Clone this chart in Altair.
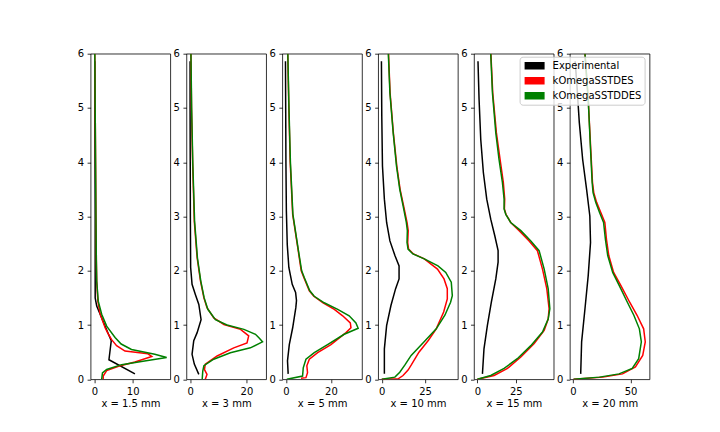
import altair as alt
import pandas as pd

MODELS = ["Experimental", "kOmegaSSTDES", "kOmegaSSTDDES"]
COLORS = ["#000000", "#ff0000", "#008000"]
TITLES = ["x = 1.5 mm", "x = 3 mm", "x = 5 mm", "x = 10 mm", "x = 15 mm", "x = 20 mm"]
X_DOMAINS = [[-1.0, 19.85], [-1.29, 26.99], [-1.61, 33.8], [-2.1, 44.0], [-2.2, 49.7], [-2.6, 66.4]]
X_TICKS = [[0, 10], [0, 20], [0, 20], [0, 25], [0, 25], [0, 50]]
Y_TICKS = [0, 1, 2, 3, 4, 5, 6]

# ---- x = 1.5 mm
P1_EXP_Y = [0.10, 0.36, 0.71, 1.35, 1.50, 2.0, 3.0, 4.0, 5.0, 5.86]
P1_EXP_X = [10.6, 3.8, 4.4, 0.6, 0.2, 0.2, 0.2, 0.15, 0.1, 0.1]
P1_DES_Y = [0.0, 0.06, 0.16, 0.24, 0.32, 0.42, 0.47, 0.52, 0.62, 0.73, 0.85, 0.95, 1.2, 1.44, 1.8, 2.2, 3.0, 4.0, 5.0, 6.0]
P1_DES_X = [2.3, 2.3, 3.2, 6.3, 10.6, 15.0, 14.0, 8.0, 5.8, 4.5, 3.5, 2.8, 1.5, 0.9, 0.6, 0.5, 0.4, 0.3, 0.2, 0.1]
P1_DDES_Y = [0.0, 0.12, 0.18, 0.27, 0.33, 0.40, 0.46, 0.55, 0.65, 0.77, 0.98, 1.2, 1.44, 1.81, 2.2, 3.0, 4.0, 5.0, 6.0]
P1_DDES_X = [1.9, 2.1, 3.2, 7.1, 12.3, 18.9, 15.8, 9.7, 7.0, 5.4, 3.2, 1.9, 1.0, 0.6, 0.5, 0.4, 0.3, 0.2, 0.1]

# ---- x = 3 mm
P2_EXP_Y = [0.09, 0.28, 0.46, 0.71, 0.86, 1.10, 1.38, 1.56, 1.75, 2.06, 3.0, 4.0, 5.0, 5.86]
P2_EXP_X = [3.1, 1.5, 0.7, 1.3, 2.5, 3.9, 3.1, 1.9, 0.7, 0.2, 0.1, 0.05, 0.0, 0.0]
P2_DES_Y = [0.0, 0.09, 0.18, 0.28, 0.43, 0.58, 0.67, 0.80, 0.92, 1.01, 1.13, 1.32, 1.50, 1.81, 2.24, 2.91, 4.0, 5.0, 6.0]
P2_DES_X = [5.4, 6.0, 5.1, 5.4, 9.6, 15.5, 20.2, 20.8, 17.9, 12.0, 8.4, 6.0, 4.9, 3.7, 2.5, 1.5, 0.9, 0.5, 0.3]
P2_DDES_Y = [0.0, 0.15, 0.25, 0.37, 0.49, 0.58, 0.69, 0.76, 0.83, 0.92, 1.0, 1.10, 1.29, 1.50, 1.81, 2.24, 2.91, 4.0, 5.0, 6.0]
P2_DDES_X = [4.3, 4.5, 4.9, 8.4, 14.3, 21.4, 25.7, 24.5, 23.2, 19.1, 13.1, 9.0, 6.3, 5.0, 3.8, 2.6, 1.6, 0.95, 0.55, 0.3]

# ---- x = 5 mm
P3_EXP_Y = [0.10, 0.34, 0.64, 0.95, 1.32, 1.45, 1.60, 1.75, 2.06, 2.48, 3.10, 4.0, 5.0, 5.86]
P3_EXP_X = [1.0, 0.7, 1.5, 3.0, 4.4, 4.7, 4.3, 2.8, 1.3, 0.6, 0.2, 0.0, -0.1, -0.2]
P3_DES_Y = [0.02, 0.03, 0.12, 0.25, 0.37, 0.49, 0.64, 0.86, 0.95, 1.04, 1.17, 1.29, 1.41, 1.53, 1.63, 1.87, 2.0, 2.36, 3.04, 4.0, 5.0, 6.0]
P3_DES_X = [6.7, 8.9, 9.6, 9.3, 10.4, 14.1, 20.0, 26.7, 28.9, 28.6, 25.2, 21.5, 16.5, 12.4, 10.4, 8.0, 6.8, 5.5, 3.0, 1.9, 1.3, 0.8]
P3_DDES_Y = [0.0, 0.06, 0.21, 0.37, 0.49, 0.64, 0.83, 0.94, 1.04, 1.17, 1.29, 1.41, 1.53, 1.63, 1.87, 2.0, 2.36, 3.04, 4.0, 5.0, 6.0]
P3_DDES_X = [0.4, 7.4, 7.7, 8.9, 12.6, 18.5, 25.9, 32.1, 31.1, 28.1, 23.0, 17.0, 12.6, 10.6, 8.2, 7.0, 5.6, 3.1, 2.0, 1.35, 0.85]

# ---- x = 10 mm
P4_EXP_Y = [0.10, 0.56, 0.99, 1.36, 1.67, 1.85, 2.09, 2.28, 2.55, 2.89, 3.32, 3.93, 4.85, 5.86]
P4_EXP_X = [1.5, 1.5, 2.8, 5.3, 8.0, 10.0, 10.0, 7.6, 4.7, 2.8, 1.5, 0.4, 0.0, -0.2]
P4_DES_Y = [0.0, 0.01, 0.07, 0.17, 0.26, 0.50, 0.72, 0.93, 1.24, 1.48, 1.67, 1.85, 2.03, 2.22, 2.31, 2.40, 2.52, 2.74, 2.89, 3.20, 3.50, 3.93, 4.54, 5.28, 6.0]
P4_DES_X = [0.0, 9.5, 12.3, 15.2, 17.0, 21.5, 27.0, 31.5, 35.8, 37.9, 37.9, 36.0, 32.2, 24.6, 18.3, 15.5, 15.0, 15.3, 14.6, 12.6, 10.6, 8.7, 6.7, 4.8, 3.9]
P4_DDES_Y = [0.0, 0.04, 0.13, 0.26, 0.44, 0.69, 0.93, 1.18, 1.42, 1.54, 1.79, 1.97, 2.09, 2.22, 2.31, 2.40, 2.52, 2.74, 2.89, 3.20, 3.50, 3.93, 4.54, 5.28, 6.0]
P4_DDES_X = [0.0, 7.6, 10.4, 13.3, 17.0, 24.5, 31.5, 36.5, 39.8, 40.8, 40.2, 37.0, 32.5, 24.6, 18.0, 15.2, 14.6, 14.8, 14.2, 12.3, 10.4, 8.5, 6.6, 4.7, 3.8]

# ---- x = 15 mm
P5_EXP_Y = [0.10, 0.56, 0.99, 1.42, 1.85, 2.16, 2.37, 2.65, 2.95, 3.32, 3.81, 4.42, 5.16, 5.86]
P5_EXP_X = [3.3, 4.3, 6.5, 9.1, 12.0, 13.5, 13.5, 11.3, 8.7, 6.1, 3.9, 2.2, 1.1, 0.4]
P5_DES_Y = [0.0, 0.07, 0.20, 0.41, 0.66, 0.90, 1.11, 1.30, 1.67, 2.03, 2.37, 2.55, 2.74, 2.89, 3.04, 3.14, 3.32, 3.63, 4.05, 4.54, 5.28, 6.0]
P5_DES_X = [0.0, 10.9, 19.6, 28.3, 37.0, 43.5, 46.1, 46.7, 45.2, 42.4, 39.1, 33.7, 27.2, 21.7, 18.6, 17.6, 17.8, 16.9, 14.8, 12.4, 10.0, 8.8]
P5_DDES_Y = [0.0, 0.07, 0.20, 0.38, 0.62, 0.87, 1.11, 1.30, 1.67, 2.03, 2.37, 2.55, 2.74, 2.89, 3.04, 3.14, 3.32, 3.63, 4.05, 4.54, 5.28, 6.0]
P5_DDES_X = [0.0, 8.7, 17.4, 26.0, 34.8, 42.4, 46.1, 47.2, 46.1, 43.5, 40.2, 34.8, 28.3, 21.7, 18.5, 17.4, 17.4, 16.3, 14.1, 12.0, 9.8, 8.7]

# ---- x = 20 mm
P6_EXP_Y = [0.10, 0.69, 1.30, 1.91, 2.52, 3.01, 3.50, 4.05, 4.73, 5.46, 5.86]
P6_EXP_X = [6.8, 7.6, 10.5, 13.3, 15.3, 14.7, 11.9, 8.5, 5.6, 3.4, 2.0]
P6_DES_Y = [0.0, 0.04, 0.10, 0.23, 0.44, 0.69, 0.93, 1.18, 1.42, 1.73, 1.97, 2.28, 2.58, 2.89, 3.07, 3.26, 3.44, 3.63, 4.24, 5.16, 6.0]
P6_DES_X = [0.6, 26.0, 43.0, 54.2, 60.5, 62.7, 61.3, 55.6, 49.2, 41.5, 35.3, 31.1, 29.1, 27.7, 24.3, 20.6, 18.1, 17.0, 15.5, 13.3, 10.5]
P6_DDES_Y = [0.0, 0.04, 0.10, 0.20, 0.38, 0.69, 0.93, 1.18, 1.42, 1.73, 1.97, 2.28, 2.58, 2.89, 3.07, 3.26, 3.44, 3.63, 4.24, 5.16, 6.0]
P6_DDES_X = [0.6, 23.0, 40.0, 51.4, 57.0, 59.3, 57.6, 52.8, 47.2, 40.1, 34.5, 30.2, 28.2, 26.6, 23.2, 19.8, 17.5, 16.7, 15.3, 13.3, 10.5]

PANELS = [
    [(P1_EXP_X, P1_EXP_Y), (P1_DES_X, P1_DES_Y), (P1_DDES_X, P1_DDES_Y)],
    [(P2_EXP_X, P2_EXP_Y), (P2_DES_X, P2_DES_Y), (P2_DDES_X, P2_DDES_Y)],
    [(P3_EXP_X, P3_EXP_Y), (P3_DES_X, P3_DES_Y), (P3_DDES_X, P3_DDES_Y)],
    [(P4_EXP_X, P4_EXP_Y), (P4_DES_X, P4_DES_Y), (P4_DDES_X, P4_DDES_Y)],
    [(P5_EXP_X, P5_EXP_Y), (P5_DES_X, P5_DES_Y), (P5_DDES_X, P5_DDES_Y)],
    [(P6_EXP_X, P6_EXP_Y), (P6_DES_X, P6_DES_Y), (P6_DDES_X, P6_DDES_Y)],
]

# legend patch: a stack of short horizontal strokes that reads as a filled rectangle
PATCH = "M-2,-0.6H2M-2,-0.36H2M-2,-0.12H2M-2,0.12H2M-2,0.36H2M-2,0.6H2"

LEGEND = alt.Legend(
    title=None, orient="none", legendX=429, legendY=3,
    symbolType=PATCH, symbolSize=100, symbolStrokeWidth=1.5, symbolOffset=6,
    labelFont="DejaVu Sans", labelFontSize=10, labelColor="#000000",
    padding=3, rowPadding=3, labelOffset=12,
    fillColor="rgba(255,255,255,0.8)", strokeColor="#cccccc", cornerRadius=3,
)


def panel(k):
    xenc = alt.X("u:Q", scale=alt.Scale(domain=X_DOMAINS[k], nice=False, zero=False),
                 axis=alt.Axis(values=X_TICKS[k], title=TITLES[k], grid=False))
    yenc = alt.Y("y:Q", scale=alt.Scale(domain=[0, 6], nice=False),
                 axis=alt.Axis(values=Y_TICKS, title=None, grid=False))
    layers = []
    for model, (xs, ys) in zip(MODELS, PANELS[k]):
        df = pd.DataFrame({"model": model, "u": xs, "y": ys, "i": list(range(len(xs)))})
        layers.append(
            alt.Chart(df).mark_line(strokeWidth=1.5, clip=True).encode(
                x=xenc, y=yenc,
                color=alt.Color("model:N", scale=alt.Scale(domain=MODELS, range=COLORS), legend=LEGEND),
                order="i:Q",
            )
        )
    return alt.layer(*layers).properties(width=79.7, height=325.6)


chart = alt.hconcat(*[panel(k) for k in range(6)], spacing=0.85).resolve_scale(x="independent").properties(
    padding={"left": 68.6, "top": 39.7, "right": 0, "bottom": 0}, background="#ffffff"
).configure_view(stroke="#000000", strokeWidth=0.8).configure_axis(
    grid=False, domain=False, ticks=True, tickColor="#000000", tickWidth=0.8, tickSize=3.5,
    labelPadding=3.5, labelFont="DejaVu Sans", labelFontSize=10, labelColor="#000000",
    labelFlush=False, labelOverlap=False,
    titleFont="DejaVu Sans", titleFontSize=10, titleFontWeight="normal", titleColor="#000000", titlePadding=2,
)

chart.save("out.html", embed_options={"renderer": "svg", "actions": False})
